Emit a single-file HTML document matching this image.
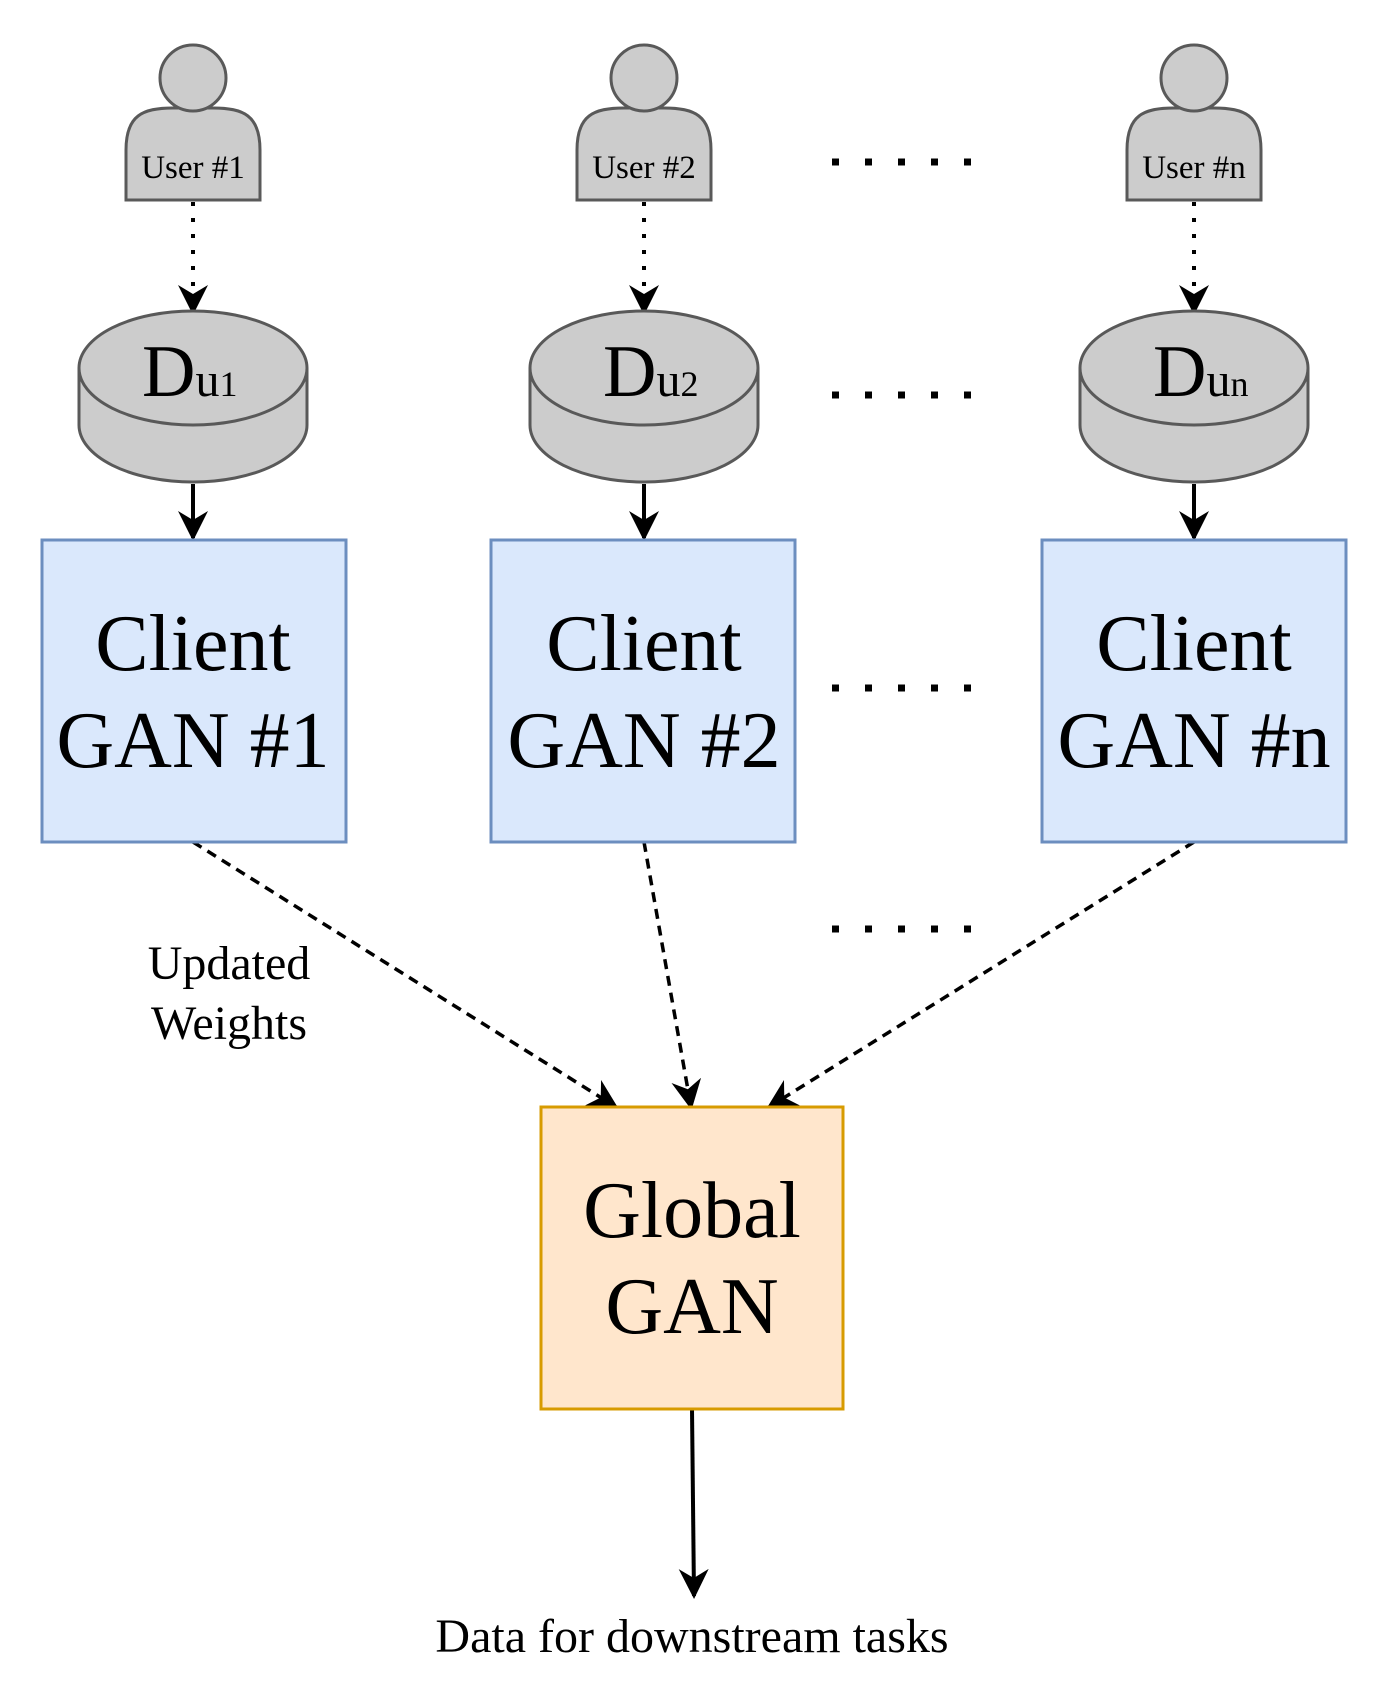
<!DOCTYPE html>
<html><head><style>html,body{margin:0;padding:0;background:#fff}</style></head><body>
<svg width="1382" height="1684" viewBox="0 0 1382 1684" xmlns="http://www.w3.org/2000/svg" font-family="Liberation Serif, serif">
<defs>
<marker id="ah" viewBox="0 0 10 10" refX="9" refY="5" markerWidth="30" markerHeight="30" markerUnits="userSpaceOnUse" orient="auto"><path d="M0,0 L10,5 L0,10 L3,5 Z" fill="#000"/></marker>
<g id="user">
<path d="M-67,200 L-67,150 C-67,115 -50,108 -20,108 L20,108 C50,108 67,115 67,150 L67,200 Z" fill="#cccccc" stroke="#595959" stroke-width="3"/>
<circle cx="0" cy="78" r="33" fill="#cccccc" stroke="#595959" stroke-width="3"/>
</g>
<g id="cyl">
<path d="M-114,368 L-114,425 A114,57 0 0 0 114,425 L114,368" fill="#cccccc" stroke="#595959" stroke-width="3"/>
<ellipse cx="0" cy="368" rx="114" ry="57" fill="#cccccc" stroke="#595959" stroke-width="3"/>
</g>
</defs>
<g fill="none" stroke="#000" stroke-width="3">
<line x1="193" y1="202" x2="193" y2="312" stroke-dasharray="4,12" marker-end="url(#ah)" stroke-width="4"/>
<line x1="644" y1="202" x2="644" y2="312" stroke-dasharray="4,12" marker-end="url(#ah)" stroke-width="4"/>
<line x1="1194" y1="202" x2="1194" y2="312" stroke-dasharray="4,12" marker-end="url(#ah)" stroke-width="4"/>
<line x1="193" y1="484" x2="193" y2="538" marker-end="url(#ah)" stroke-width="4"/>
<line x1="644" y1="484" x2="644" y2="538" marker-end="url(#ah)" stroke-width="4"/>
<line x1="1194" y1="484" x2="1194" y2="538" marker-end="url(#ah)" stroke-width="4"/>
<line x1="193" y1="842" x2="616" y2="1107" stroke-dasharray="10,7" stroke-width="3.5" marker-end="url(#ah)"/>
<line x1="644" y1="842" x2="691" y2="1107" stroke-dasharray="10,7" stroke-width="3.5" marker-end="url(#ah)"/>
<line x1="1194" y1="842" x2="769" y2="1107" stroke-dasharray="10,7" stroke-width="3.5" marker-end="url(#ah)"/>
<line x1="692" y1="1409" x2="694" y2="1596" marker-end="url(#ah)" stroke-width="4"/>
<g stroke-width="7" stroke-dasharray="7,26">
<line x1="832" y1="162" x2="990" y2="162"/>
<line x1="832" y1="395" x2="990" y2="395"/>
<line x1="832" y1="688" x2="990" y2="688"/>
<line x1="832" y1="929" x2="990" y2="929"/>
</g>
</g>
<use href="#user" x="193"/><use href="#user" x="644"/><use href="#user" x="1194"/>
<use href="#cyl" x="193"/><use href="#cyl" x="644"/><use href="#cyl" x="1194"/>
<g font-size="33" text-anchor="middle" fill="#000">
<text x="193" y="178">User #1</text><text x="644" y="178">User #2</text><text x="1194" y="178">User #n</text>
</g>
<g font-size="74" fill="#000">
<text x="142" y="396">D<tspan font-size="48">u</tspan><tspan font-size="36">1</tspan></text>
<text x="603" y="396">D<tspan font-size="48">u</tspan><tspan font-size="36">2</tspan></text>
<text x="1153" y="396">D<tspan font-size="48">u</tspan><tspan font-size="36">n</tspan></text>
</g>
<g fill="#dae8fc" stroke="#6c8ebf" stroke-width="3">
<rect x="42" y="540" width="304" height="302"/>
<rect x="491" y="540" width="304" height="302"/>
<rect x="1042" y="540" width="304" height="302"/>
</g>
<rect x="541" y="1107" width="302" height="302" fill="#ffe6cc" stroke="#d79b00" stroke-width="3"/>
<g font-size="80" text-anchor="middle" fill="#000">
<text x="193" y="670">Client</text><text x="193" y="767">GAN #1</text>
<text x="644" y="670">Client</text><text x="644" y="767">GAN #2</text>
<text x="1194" y="670">Client</text><text x="1194" y="767">GAN #n</text>
<text x="692" y="1237">Global</text><text x="692" y="1333">GAN</text>
</g>
<g font-size="48" text-anchor="middle" fill="#000">
<text x="229" y="979">Updated</text><text x="229" y="1039">Weights</text>
<text x="692" y="1652">Data for downstream tasks</text>
</g>
</svg>
</body></html>
